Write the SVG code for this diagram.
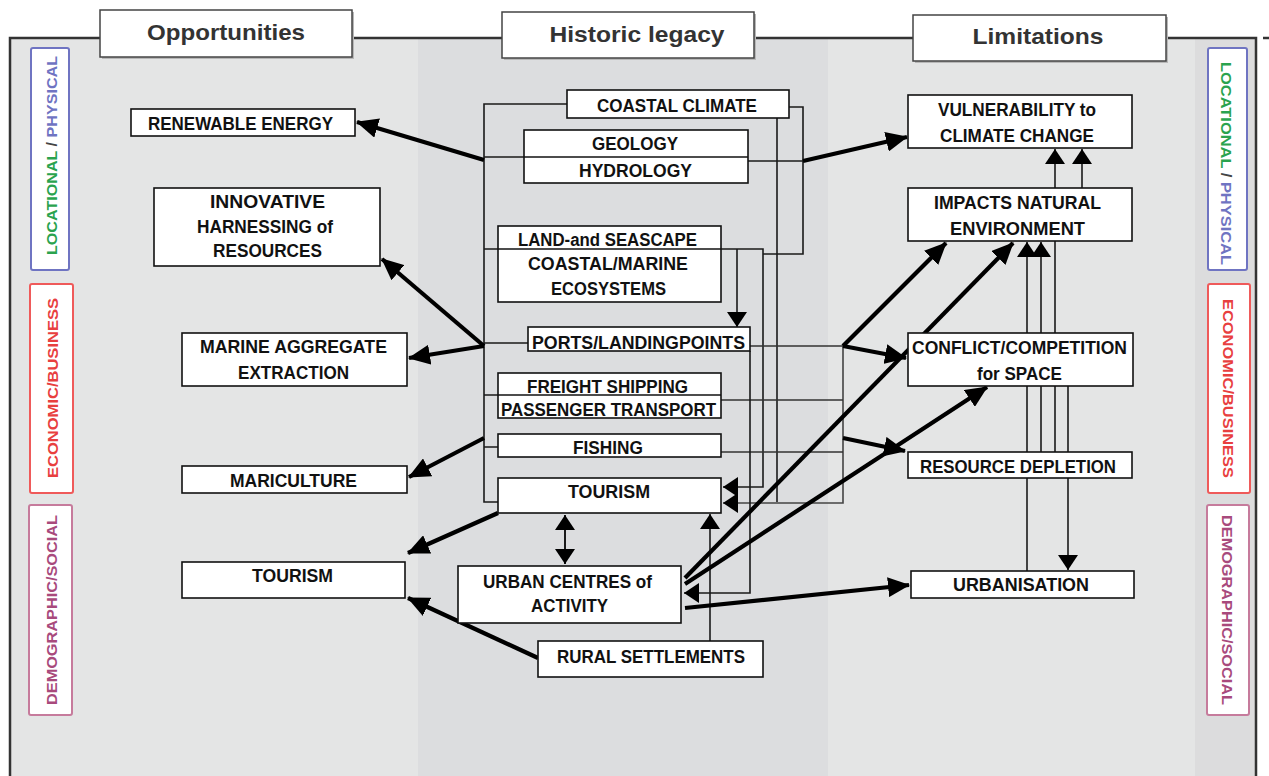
<svg xmlns="http://www.w3.org/2000/svg" width="1269" height="776" viewBox="0 0 1269 776">
<style>
.node rect{fill:#fff;stroke:#111;stroke-width:1.6}
.node text{font-family:"Liberation Sans",Arial,sans-serif;font-weight:bold;font-size:18px;fill:#111;text-anchor:middle}
.div{stroke:#111;stroke-width:1.4;fill:none}
.thin{fill:none;stroke:#1a1a1a;stroke-width:1.6}
.thick{fill:none;stroke:#000;stroke-width:4.2}
.hdr rect.box{fill:#fff;stroke:#444;stroke-width:1.5}
.hdr rect.sh{fill:#b8b8b8}
.hdr text{font-family:"Liberation Sans",Arial,sans-serif;font-weight:bold;font-size:22px;fill:#333;text-anchor:middle}
.side text{font-family:"Liberation Sans",Arial,sans-serif;font-weight:bold;font-size:15px;text-anchor:middle}
.side rect{fill:#fff;stroke-width:2}
</style>
<defs>
<marker id="ah" viewBox="0 0 22 20" refX="21" refY="10" markerWidth="22" markerHeight="20" markerUnits="userSpaceOnUse" orient="auto"><path d="M0,0 L22,10 L0,20 z" fill="#000"/></marker>
<marker id="at" viewBox="0 0 15 20" refX="15" refY="10" markerWidth="15" markerHeight="20" markerUnits="userSpaceOnUse" orient="auto-start-reverse"><path d="M0,0 L15,10 L0,20 z" fill="#000"/></marker>
</defs>
<rect x="0" y="0" width="1269" height="776" fill="#fff"/>
<g id="background">
<rect x="10" y="38" width="408" height="738" fill="#e4e5e5"/>
<rect x="418" y="38" width="410" height="738" fill="#dcdddf"/>
<rect x="828" y="38" width="367" height="738" fill="#e4e5e5"/>
<rect x="1195" y="38" width="61" height="738" fill="#dcdcdd"/>
<path d="M10,776 V38 H1256 V776" fill="none" stroke="#333" stroke-width="2.5"/>
<path d="M1263,38 H1269" fill="none" stroke="#333" stroke-width="2.5"/>
</g>
<g id="headers" class="hdr">
<g id="hdr-opportunities"><rect class="sh" x="102" y="12" width="252" height="47"/><rect class="box" x="100" y="10" width="252" height="47"/><text x="226" y="40" textLength="158" lengthAdjust="spacingAndGlyphs">Opportunities</text></g>
<g id="hdr-historic"><rect class="sh" x="504" y="14" width="252" height="46"/><rect class="box" x="502" y="12" width="252" height="46"/><text x="637" y="42" textLength="175" lengthAdjust="spacingAndGlyphs">Historic legacy</text></g>
<g id="hdr-limitations"><rect class="sh" x="915" y="17" width="253" height="46"/><rect class="box" x="913" y="15" width="253" height="46"/><text x="1038" y="44" textLength="131" lengthAdjust="spacingAndGlyphs">Limitations</text></g>
</g>
<g id="side-labels" class="side">
<g id="side-l-loc"><rect x="31" y="48" width="38" height="222" rx="2" stroke="#6f74c2"/><text transform="translate(57,155.5) rotate(-90)" textLength="199" lengthAdjust="spacingAndGlyphs"><tspan fill="#2aa34e">LOCATIONAL</tspan><tspan fill="#444"> / </tspan><tspan fill="#6f74c2">PHYSICAL</tspan></text></g>
<g id="side-l-eco"><rect x="30" y="284" width="43" height="209" rx="2" stroke="#ef5a5a"/><text transform="translate(58,388) rotate(-90)" fill="#e8403f" textLength="180" lengthAdjust="spacingAndGlyphs">ECONOMIC/BUSINESS</text></g>
<g id="side-l-dem"><rect x="29" y="505" width="43" height="210" rx="2" stroke="#c67b9c"/><text transform="translate(57,610) rotate(-90)" fill="#a84a7c" textLength="190" lengthAdjust="spacingAndGlyphs">DEMOGRAPHIC/SOCIAL</text></g>
<g id="side-r-loc"><rect x="1208" y="48" width="39" height="222" rx="2" stroke="#6f74c2"/><text transform="translate(1221,163.5) rotate(90)" textLength="203" lengthAdjust="spacingAndGlyphs"><tspan fill="#2aa34e">LOCATIONAL</tspan><tspan fill="#444"> / </tspan><tspan fill="#6f74c2">PHYSICAL</tspan></text></g>
<g id="side-r-eco"><rect x="1208" y="284" width="42" height="209" rx="2" stroke="#ef5a5a"/><text transform="translate(1223,388.5) rotate(90)" fill="#e8403f" textLength="179" lengthAdjust="spacingAndGlyphs">ECONOMIC/BUSINESS</text></g>
<g id="side-r-dem"><rect x="1207" y="505" width="42" height="210" rx="2" stroke="#c67b9c"/><text transform="translate(1222,610) rotate(90)" fill="#a84a7c" textLength="190" lengthAdjust="spacingAndGlyphs">DEMOGRAPHIC/SOCIAL</text></g>
</g>
<g id="connectors">
<path class="thin" d="M567,104 H484 V502 H498"/>
<path class="thin" d="M484,157 H524 M484,249 H498 M484,343 H528 M484,395 H498 M484,447 H498"/>
<path class="thin" d="M721,249 H763 V487 H723" marker-end="url(#at)"/>
<path class="thin" d="M737,249 V327" marker-end="url(#at)"/>
<path class="thin" d="M789,107 H803 V254 H763"/>
<path class="thin" d="M748,161 H803"/>
<path class="thin" d="M777,118 V502"/>
<path class="thin" d="M843,346 V503 H723" marker-end="url(#at)" style="stroke:#444"/>
<path class="thin" d="M750,346 H843 M721,400 H843 M721,452 H843" style="stroke:#333"/>
<path class="thin" d="M750,351 V593 H684" marker-end="url(#at)"/>
<path class="thin" d="M565,515 V564" style="stroke-width:2" marker-start="url(#at)" marker-end="url(#at)"/>
<path class="thin" d="M710,641 V514" marker-end="url(#at)"/>
<path class="thin" d="M1027,571 V242" marker-end="url(#at)"/>
<path class="thin" d="M1041,452 V242" marker-end="url(#at)"/>
<path class="thin" d="M1055,452 V149" marker-end="url(#at)"/>
<path class="thin" d="M1068,386 V570" marker-end="url(#at)"/>
<path class="thin" d="M1082,188 V149" marker-end="url(#at)"/>
<path class="thick" d="M484,160 L357,122" marker-end="url(#ah)"/>
<path class="thick" d="M803,161 L907,137" marker-end="url(#ah)"/>
<path class="thick" d="M484,346 L382,259" marker-end="url(#ah)"/>
<path class="thick" d="M484,346 L409,358" marker-end="url(#ah)"/>
<path class="thick" d="M484,438 L409,477" marker-end="url(#ah)"/>
<path class="thick" d="M498,513 L408,553" marker-end="url(#ah)"/>
<path class="thick" d="M538,658 L408,598" marker-end="url(#ah)"/>
<path class="thick" d="M843,346 L946,243" marker-end="url(#ah)"/>
<path class="thick" d="M843,346 L906,358" marker-end="url(#ah)"/>
<path class="thick" d="M843,438 L905,451" marker-end="url(#ah)"/>
<path class="thick" d="M685,578 L1013,243" marker-end="url(#ah)"/>
<path class="thick" d="M685,584 L987,387" marker-end="url(#ah)"/>
<path class="thick" d="M685,608 L909,585" marker-end="url(#ah)"/>
</g>
<g id="n-renewable" class="node"><rect x="131" y="109" width="224" height="27"/><text x="240.5" y="130" textLength="185" lengthAdjust="spacingAndGlyphs">RENEWABLE ENERGY</text></g>
<g id="n-innovative" class="node"><rect x="154" y="188" width="226" height="78"/><text x="267.5" y="208" textLength="115" lengthAdjust="spacingAndGlyphs">INNOVATIVE</text><text x="265" y="233" textLength="136" lengthAdjust="spacingAndGlyphs">HARNESSING of</text><text x="267.5" y="257" textLength="109" lengthAdjust="spacingAndGlyphs">RESOURCES</text></g>
<g id="n-marine-agg" class="node"><rect x="182" y="333" width="225" height="53"/><text x="293.5" y="353" textLength="187" lengthAdjust="spacingAndGlyphs">MARINE AGGREGATE</text><text x="293.5" y="379" textLength="111" lengthAdjust="spacingAndGlyphs">EXTRACTION</text></g>
<g id="n-mariculture" class="node"><rect x="182" y="466" width="225" height="27"/><text x="293.5" y="487" textLength="127" lengthAdjust="spacingAndGlyphs">MARICULTURE</text></g>
<g id="n-tourism-opp" class="node"><rect x="182" y="562" width="223" height="36"/><text x="292.5" y="582" textLength="81" lengthAdjust="spacingAndGlyphs">TOURISM</text></g>
<g id="n-coastal-climate" class="node"><rect x="567" y="90" width="222" height="28"/><text x="677" y="112" textLength="160" lengthAdjust="spacingAndGlyphs">COASTAL CLIMATE</text></g>
<g id="n-geology" class="node"><rect x="524" y="130" width="224" height="53"/><path class="div" d="M524,157 H748"/><text x="635" y="150" textLength="86" lengthAdjust="spacingAndGlyphs">GEOLOGY</text><text x="635.5" y="177" textLength="113" lengthAdjust="spacingAndGlyphs">HYDROLOGY</text></g>
<g id="n-landscape" class="node"><rect x="498" y="226" width="223" height="76"/><path class="div" d="M498,249 H721"/><text x="607.5" y="246" textLength="179" lengthAdjust="spacingAndGlyphs">LAND-and SEASCAPE</text><text x="608" y="270" textLength="160" lengthAdjust="spacingAndGlyphs">COASTAL/MARINE</text><text x="608.5" y="295" textLength="115" lengthAdjust="spacingAndGlyphs">ECOSYSTEMS</text></g>
<g id="n-ports" class="node"><rect x="528" y="327" width="222" height="24"/><text x="638.5" y="349" textLength="213" lengthAdjust="spacingAndGlyphs">PORTS/LANDINGPOINTS</text></g>
<g id="n-freight" class="node"><rect x="498" y="373" width="223" height="45"/><path class="div" d="M498,395 H721"/><text x="607.5" y="393" textLength="161" lengthAdjust="spacingAndGlyphs">FREIGHT SHIPPING</text><text x="608.5" y="416" textLength="215" lengthAdjust="spacingAndGlyphs">PASSENGER TRANSPORT</text></g>
<g id="n-fishing" class="node"><rect x="498" y="434" width="223" height="23"/><text x="608" y="454" textLength="70" lengthAdjust="spacingAndGlyphs">FISHING</text></g>
<g id="n-tourism-hist" class="node"><rect x="498" y="478" width="223" height="35"/><text x="609" y="498" textLength="82" lengthAdjust="spacingAndGlyphs">TOURISM</text></g>
<g id="n-urban" class="node"><rect x="458" y="566" width="223" height="57"/><text x="567.5" y="588" textLength="169" lengthAdjust="spacingAndGlyphs">URBAN CENTRES of</text><text x="569.5" y="612" textLength="77" lengthAdjust="spacingAndGlyphs">ACTIVITY</text></g>
<g id="n-rural" class="node"><rect x="538" y="641" width="225" height="36"/><text x="651" y="663" textLength="188" lengthAdjust="spacingAndGlyphs">RURAL SETTLEMENTS</text></g>
<g id="n-vulnerability" class="node"><rect x="908" y="95" width="224" height="53"/><text x="1017" y="116" textLength="158" lengthAdjust="spacingAndGlyphs">VULNERABILITY to</text><text x="1017" y="142" textLength="154" lengthAdjust="spacingAndGlyphs">CLIMATE CHANGE</text></g>
<g id="n-impacts" class="node"><rect x="908" y="188" width="224" height="53"/><text x="1017.5" y="209" textLength="167" lengthAdjust="spacingAndGlyphs">IMPACTS NATURAL</text><text x="1017.5" y="235" textLength="135" lengthAdjust="spacingAndGlyphs">ENVIRONMENT</text></g>
<g id="n-conflict" class="node"><rect x="908" y="333" width="225" height="53"/><text x="1019.5" y="354" textLength="215" lengthAdjust="spacingAndGlyphs">CONFLICT/COMPETITION</text><text x="1019.5" y="380" textLength="85" lengthAdjust="spacingAndGlyphs">for SPACE</text></g>
<g id="n-depletion" class="node"><rect x="908" y="452" width="224" height="26"/><text x="1018" y="473" textLength="196" lengthAdjust="spacingAndGlyphs">RESOURCE DEPLETION</text></g>
<g id="n-urbanisation" class="node"><rect x="911" y="571" width="223" height="27"/><text x="1021" y="591" textLength="136" lengthAdjust="spacingAndGlyphs">URBANISATION</text></g>
</svg>
